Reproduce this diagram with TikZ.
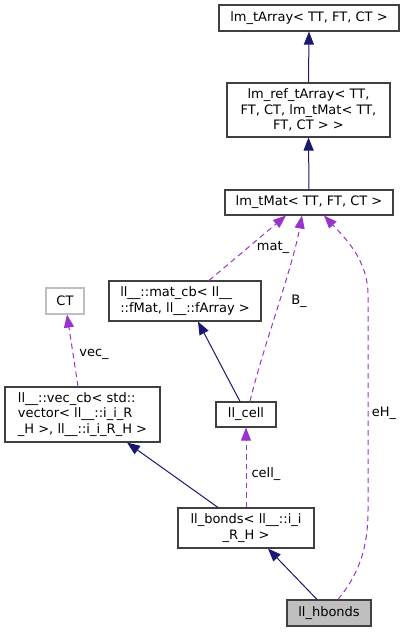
\documentclass[tikz,border=0pt]{standalone}
\usepackage{fontspec}
\setmainfont{DejaVu Sans}
\usetikzlibrary{arrows.meta,calc}
\definecolor{edgenavy}{HTML}{191970}
\definecolor{edgepurple}{HTML}{9A32CD}
\definecolor{boxgray}{HTML}{404040}
\definecolor{ctgray}{HTML}{BFBFBF}
\begin{document}
\begin{tikzpicture}[x=1pt,y=-1pt,
  font=\fontsize{13}{15.4}\selectfont,
  box/.style={draw=boxgray, line width=1.1pt, inner sep=0pt, fill=white},
  inh/.style={draw=edgenavy, line width=1pt, -{Triangle[length=13pt,width=10pt]}},
  use/.style={draw=edgepurple, line width=1pt, dash pattern=on 5.5pt off 4pt, -{Triangle[length=13pt,width=10pt]}},
  lbl/.style={inner sep=0pt}]
\useasboundingbox (0,0) rectangle (404,632);

\node[box, minimum width=180pt, minimum height=26pt] (tarr) at (309,18) {lm\_tArray< TT, FT, CT >};
\node[box, minimum width=163pt, minimum height=54pt, align=center] (reft) at (308.5,110) {lm\_ref\_tArray< TT,\\ FT, CT, lm\_tMat< TT,\\ FT, CT > >};
\node[box, minimum width=168pt, minimum height=25pt] (tmat) at (309,202.5) {lm\_tMat< TT, FT, CT >};
\node[box, minimum width=152pt, minimum height=40pt, align=left] (matcb) at (185,301) {ll\_\_::mat\_cb< ll\_\_\\::fMat, ll\_\_::fArray >};
\node[box, draw=ctgray, minimum width=38pt, minimum height=26pt] (ct) at (65,301) {CT};
\node[box, minimum width=155pt, minimum height=55pt, align=left] (veccb) at (82.5,414.5) {ll\_\_::vec\_cb< std::\\vector< ll\_\_::i\_i\_R\\\_H >, ll\_\_::i\_i\_R\_H >};
\node[box, minimum width=60pt, minimum height=25pt] (cell) at (246,414.5) {ll\_cell};
\node[box, minimum width=136pt, minimum height=40pt, align=center] (bonds) at (246,528) {ll\_bonds< ll\_\_::i\_i\\\_R\_H >};
\node[box, fill=ctgray, minimum width=84pt, minimum height=26pt] (hbonds) at (329,613) {ll\_hbonds};

% inheritance
\draw[inh] (reft.north) -- (tarr.south);
\draw[inh] (tmat.north) -- (reft.south);
\draw[inh] ([xshift=-6pt]cell.north) -- ([xshift=13pt]matcb.south);
\draw[inh] ([xshift=-28pt]bonds.north) -- ([xshift=44.5pt]veccb.south);
\draw[inh] ([xshift=-12pt]hbonds.north) -- ([xshift=22pt]bonds.south);

% usage
\draw[use] ([xshift=24pt]matcb.north) -- ([xshift=-23pt]tmat.south);
\draw[use] ([xshift=4pt]cell.north) .. controls (262,350) and (292,270) .. ([xshift=-7pt]tmat.south);
\draw[use] ([xshift=9pt]hbonds.north) .. controls (358,575) and (368,550) .. (368,510) -- (368,295) .. controls (368,260) and (345,238) .. ([xshift=15pt]tmat.south);
\draw[use] ([xshift=-4.5pt]veccb.north) -- ([xshift=2pt]ct.south);
\draw[use] (bonds.north) -- (cell.south);

% labels
\node[lbl] (lmat) at (273,247) {mat\_};
\node[lbl] (lB) at (299,301) {B\_};
\node[lbl] (leH) at (384,413) {eH\_};
\node[lbl] (lvec) at (94,354) {vec\_};
\node[lbl] (lcell) at (266,474) {cell\_};
\end{tikzpicture}
\end{document}
